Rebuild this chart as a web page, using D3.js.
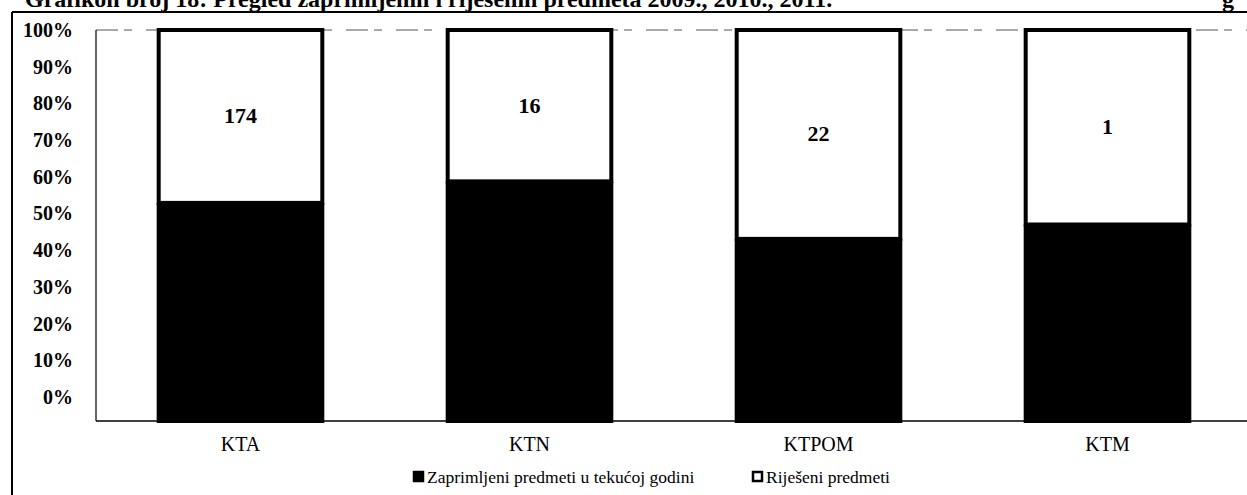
<!DOCTYPE html>
<html lang="hr">
<head>
  <meta charset="utf-8">
  <title>Grafikon broj 18</title>
  <script src="https://d3js.org/d3.v7.min.js"></script>
  <style>
    body { margin: 0; background: #fff; font-family: "Liberation Serif", "DejaVu Serif", serif; }
    svg { display: block; }
  </style>
</head>
<body>
<script>
  // -------------------------------------------------
  // Data (counts per category; shown as 100% stacked)
  // -------------------------------------------------
  const categories = ["KTA", "KTN", "KTPOM", "KTM"];
  const zaprimljeni = [217, 25, 19, 1];   // received in current year
  const rijeseni    = [174, 16, 22, 1];   // resolved
  const seriesNames = ["Zaprimljeni predmeti u tekućoj godini", "Riješeni predmeti"];
  const tickValues  = [0, 0.1, 0.2, 0.3, 0.4, 0.5, 0.6, 0.7, 0.8, 0.9, 1];
  const titleText   = "Grafikon broj 18: Pregled zaprimljenih i riješenih predmeta 2009., 2010., 2011.";

  const W = 1247, H = 495;
  const plot = { left: 96, right: 1252, top: 28, bottom: 421 };

  const svg = d3.select("body").append("svg")
    .attr("width", W)
    .attr("height", H);

  // title (cut off by the top edge like the scan)
  svg.append("text")
    .attr("x", 25)
    .attr("y", 7)
    .attr("font-size", 24)
    .attr("font-weight", "bold")
    .text(titleText);
  svg.append("text")
    .attr("x", 1222)
    .attr("y", 7)
    .attr("font-size", 24)
    .attr("font-weight", "bold")
    .text("g");

  // outer frame
  svg.append("line")
    .attr("x1", 12).attr("x2", W)
    .attr("y1", 12).attr("y2", 12)
    .attr("stroke", "#000").attr("stroke-width", 2);
  svg.append("line")
    .attr("x1", 12).attr("x2", 12)
    .attr("y1", 12).attr("y2", H)
    .attr("stroke", "#000").attr("stroke-width", 2);

  // -------------------------------------------------
  // Scales
  // -------------------------------------------------
  const x = d3.scaleBand()
    .domain(categories)
    .range([plot.left, plot.right])
    .paddingInner(0.42)
    .paddingOuter(0.21);

  const y = d3.scaleLinear().domain([0, 1]).range([plot.bottom, plot.top]);
  // tick labels in the scan sit on a slightly compressed scale
  const yLabels = d3.scaleLinear().domain([0, 1]).range([397, 30]);

  const table = categories.map((c, i) => ({ cat: c, z: zaprimljeni[i], r: rijeseni[i] }));
  const stack = d3.stack().keys(["z", "r"]).offset(d3.stackOffsetExpand);
  const layers = stack(table);

  // plot area border
  svg.append("line")
    .attr("x1", plot.left).attr("x2", plot.right)
    .attr("y1", y(1) + 2).attr("y2", y(1) + 2)
    .attr("stroke", "#555").attr("stroke-width", 1.2)
    .attr("stroke-dasharray", "22,6,8,14");
  svg.append("line")
    .attr("x1", plot.left).attr("x2", plot.left)
    .attr("y1", y(1) + 2).attr("y2", plot.bottom)
    .attr("stroke", "#000").attr("stroke-width", 1.2);

  // -------------------------------------------------
  // Bars
  // -------------------------------------------------
  const fills = ["#000", "#fff"];
  svg.append("g")
    .selectAll("g")
    .data(layers)
    .join("g")
    .attr("fill", (d, i) => fills[i])
    .selectAll("rect")
    .data(d => d)
    .join("rect")
    .attr("x", d => x(d.data.cat) + 2)
    .attr("y", d => y(d[1]) + 2)
    .attr("width", x.bandwidth() - 4)
    .attr("height", d => y(d[0]) - y(d[1]) - 2)
    .attr("stroke", "#000")
    .attr("stroke-width", 4);

  // value labels on the resolved segment
  svg.append("g")
    .selectAll("text")
    .data(layers[1])
    .join("text")
    .attr("x", d => x(d.data.cat) + x.bandwidth() / 2)
    .attr("y", d => (y(d[0]) + y(d[1])) / 2 + 8)
    .attr("text-anchor", "middle")
    .attr("font-size", 22)
    .attr("font-weight", "bold")
    .text(d => d.data.r);

  // baseline
  svg.append("line")
    .attr("x1", plot.left).attr("x2", plot.right)
    .attr("y1", plot.bottom).attr("y2", plot.bottom)
    .attr("stroke", "#000").attr("stroke-width", 1.6);

  // -------------------------------------------------
  // Axes
  // -------------------------------------------------
  const yAxis = svg.append("g")
    .attr("transform", "translate(73,0)")
    .call(d3.axisLeft(yLabels).tickValues(tickValues).tickSize(0).tickPadding(0).tickFormat(d3.format(".0%")));
  yAxis.select(".domain").remove();
  yAxis.selectAll("text")
    .attr("font-family", "Liberation Serif")
    .attr("font-size", 20)
    .attr("font-weight", "bold")
    .attr("fill", "#000");

  const xAxis = svg.append("g")
    .attr("transform", `translate(0,${plot.bottom})`)
    .call(d3.axisBottom(x).tickSize(0).tickPadding(16));
  xAxis.select(".domain").remove();
  xAxis.selectAll("text")
    .attr("font-family", "Liberation Serif")
    .attr("font-size", 20)
    .attr("fill", "#000");

  // -------------------------------------------------
  // Legend
  // -------------------------------------------------
  const legendX = [413, 752];
  const legend = svg.append("g")
    .selectAll("g")
    .data(seriesNames)
    .join("g")
    .attr("transform", (d, i) => `translate(${legendX[i]},471)`);
  legend.append("rect")
    .attr("x", 1).attr("y", 1)
    .attr("width", 9).attr("height", 9)
    .attr("fill", (d, i) => fills[i])
    .attr("stroke", "#000")
    .attr("stroke-width", 2.5);
  legend.append("text")
    .attr("x", 14)
    .attr("y", 12)
    .attr("font-size", 17.5)
    .text(d => d);
</script>
</body>
</html>
